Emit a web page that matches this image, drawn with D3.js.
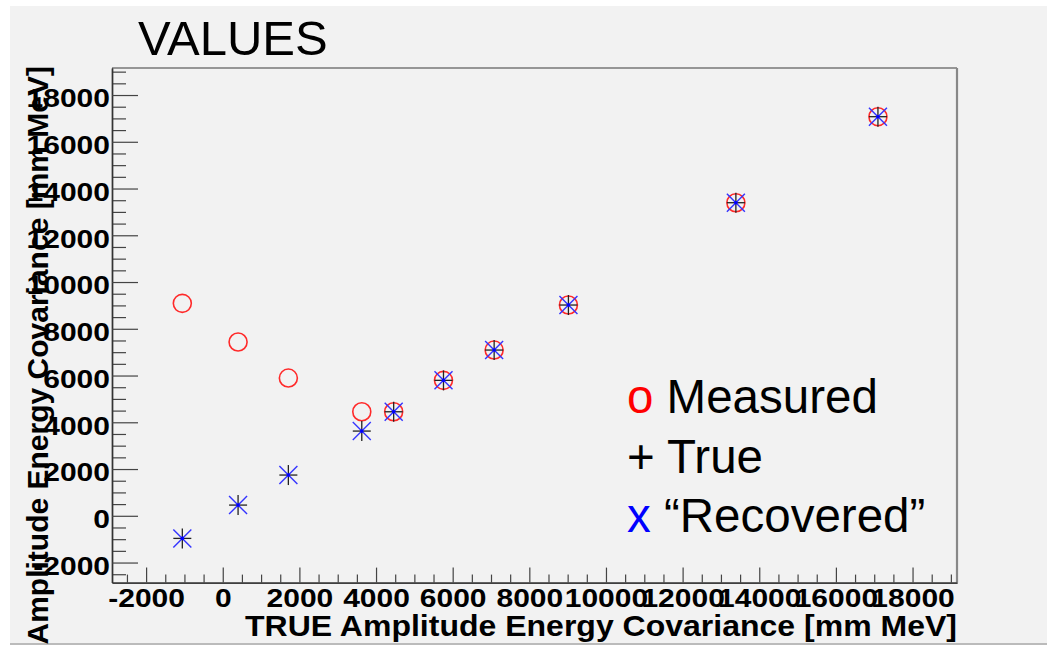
<!DOCTYPE html>
<html>
<head>
<meta charset="utf-8">
<script src="https://cdn.jsdelivr.net/npm/d3@7"></script>
<style>
  body { margin: 0; background: #fff; }
  text { font-family: "Liberation Sans", Arial, Helvetica, sans-serif; }
</style>
</head>
<body>
<div id="chart"></div>
<script>
  // values
  var trueX      = [-1055, 400, 1712, 3628, 4460, 5760, 7082, 9020, 13390, 17097];
  var measuredY  = [9088, 7433, 5892, 4450, 4450, 5794, 7090, 9016, 13393, 17073];
  var trueY      = [-967, 458, 1743, 3624, 4450, 5794, 7090, 9016, 13393, 17073];
  var recoveredY = [-967, 458, 1743, 3624, 4450, 5794, 7090, 9016, 13393, 17073];

  var majorTicks = d3.range(-2000, 18001, 2000);
  var minorTicks = d3.range(-2500, 19001, 500).filter(function(v) { return v % 2000 !== 0; });

  var legendSymbols = ["o", "+", "x"];
  var legendLabels  = ["Measured", "True", "\u201CRecovered\u201D"];
  var legendColors  = ["#ff0000", "#000000", "#0000ff"];

  var w = 1047, h = 646;
  var padL = 112, padR = 957, padT = 68, padB = 582.6;

  var svg = d3.select("#chart").append("svg")
      .attr("width", w)
      .attr("height", h);

  // canvas background
  svg.append("rect").attr("x", 10).attr("y", 6).attr("width", w - 10).attr("height", 637)
      .attr("fill", "#f2f2f2");
  svg.append("line").attr("x1", 10).attr("x2", w).attr("y1", 644).attr("y2", 644)
      .attr("stroke", "#bbb").attr("stroke-width", 2);

  var xScale = d3.scaleLinear().domain([-2890, 19160]).range([padL, padR]);
  var yScale = d3.scaleLinear().domain([-2858, 19156]).range([padB, padT]);

  // frame
  svg.append("line").attr("x1", padL).attr("x2", padR).attr("y1", padT).attr("y2", padT)
      .attr("stroke", "#777").attr("stroke-width", 1.3);
  svg.append("line").attr("x1", padR).attr("x2", padR).attr("y1", padT).attr("y2", padB)
      .attr("stroke", "#888").attr("stroke-width", 2.2);

  var fmt = function(d) { return String(d); };

  // x axis
  var xMinor = svg.append("g").attr("transform", "translate(0," + padB + ")")
      .call(d3.axisBottom(xScale).tickValues(minorTicks).tickSizeInner(-8).tickSizeOuter(0).tickFormat(""));
  var xMajor = svg.append("g").attr("transform", "translate(0," + padB + ")")
      .call(d3.axisBottom(xScale).tickValues(majorTicks).tickSizeInner(-15).tickSizeOuter(0)
        .tickPadding(6.5).tickFormat(fmt));

  // y axis
  var yMinor = svg.append("g").attr("transform", "translate(" + padL + ",0)")
      .call(d3.axisLeft(yScale).tickValues(minorTicks).tickSizeInner(-14).tickSizeOuter(0).tickFormat(""));
  var yMajor = svg.append("g").attr("transform", "translate(" + padL + ",0)")
      .call(d3.axisLeft(yScale).tickValues(majorTicks).tickSizeInner(-26).tickSizeOuter(0)
        .tickPadding(2).tickFormat(fmt));

  [xMinor, xMajor, yMinor, yMajor].forEach(function(g) {
    g.selectAll("path").attr("stroke", "#333").attr("stroke-width", 1.4);
    g.selectAll("line").attr("stroke", "#444").attr("stroke-width", 1.2);
  });

  // tick labels are bold and a bit wide
  [xMajor, yMajor].forEach(function(g) {
    g.selectAll("text")
      .attr("font-family", "Liberation Sans, Arial, sans-serif")
      .attr("font-size", 25)
      .attr("font-weight", "bold")
      .attr("fill", "#000")
      .each(function() {
        var len = this.getComputedTextLength();
        d3.select(this).attr("textLength", len * 1.2).attr("lengthAdjust", "spacingAndGlyphs");
      });
  });
  yMajor.selectAll("text").attr("dy", "0.47em");

  // axis titles
  svg.append("text")
      .attr("x", 245).attr("y", 636)
      .attr("font-size", 30).attr("font-weight", "bold")
      .attr("textLength", 712).attr("lengthAdjust", "spacingAndGlyphs")
      .text("TRUE Amplitude Energy Covariance [mm MeV]");

  svg.append("text")
      .attr("transform", "translate(48,66) rotate(-90)")
      .attr("text-anchor", "end")
      .attr("font-size", 30).attr("font-weight", "bold")
      .text("Amplitude Energy Covariance [mm MeV]");

  // title
  svg.append("text")
      .attr("x", 138).attr("y", 55)
      .attr("font-size", 49)
      .text("VALUES");

  // markers
  var pts = svg.append("g");

  pts.selectAll("circle.measured")
      .data(trueX)
      .enter().append("circle")
      .attr("class", "measured")
      .attr("cx", function(d) { return xScale(d); })
      .attr("cy", function(d, i) { return yScale(measuredY[i]); })
      .attr("r", 9)
      .attr("fill", "none")
      .attr("stroke", "#ff2a2a")
      .attr("stroke-width", 1.6);

  var plus = pts.selectAll("g.true")
      .data(trueX)
      .enter().append("g")
      .attr("class", "true")
      .attr("transform", function(d, i) { return "translate(" + xScale(d) + "," + yScale(trueY[i]) + ")"; });
  plus.append("line").attr("x1", -9).attr("x2", 9).attr("y1", 0).attr("y2", 0);
  plus.append("line").attr("x1", 0).attr("x2", 0).attr("y1", -10).attr("y2", 10);
  plus.selectAll("line").attr("stroke", "#222").attr("stroke-width", 1.3);

  var cross = pts.selectAll("g.recovered")
      .data(trueX)
      .enter().append("g")
      .attr("class", "recovered")
      .attr("transform", function(d, i) { return "translate(" + xScale(d) + "," + yScale(recoveredY[i]) + ")"; });
  cross.append("line").attr("x1", -9).attr("x2", 9).attr("y1", -9).attr("y2", 9);
  cross.append("line").attr("x1", -9).attr("x2", 9).attr("y1", 9).attr("y2", -9);
  cross.selectAll("line").attr("stroke", "#3333ff").attr("stroke-width", 1.4);
  cross.append("circle").attr("r", 1.8).attr("fill", "#0000ff");

  // legend
  var legend = svg.selectAll(".legend")
      .data(legendLabels)
      .enter().append("text")
      .attr("class", "legend")
      .attr("x", 627)
      .attr("y", function(d, i) { return 413 + i * 59.5; })
      .attr("font-size", 47.5);
  legend.append("tspan")
      .attr("fill", function(d, i) { return legendColors[i]; })
      .text(function(d, i) { return legendSymbols[i]; });
  legend.append("tspan")
      .attr("fill", "#000")
      .text(function(d) { return " " + d; });
</script>
</body>
</html>
